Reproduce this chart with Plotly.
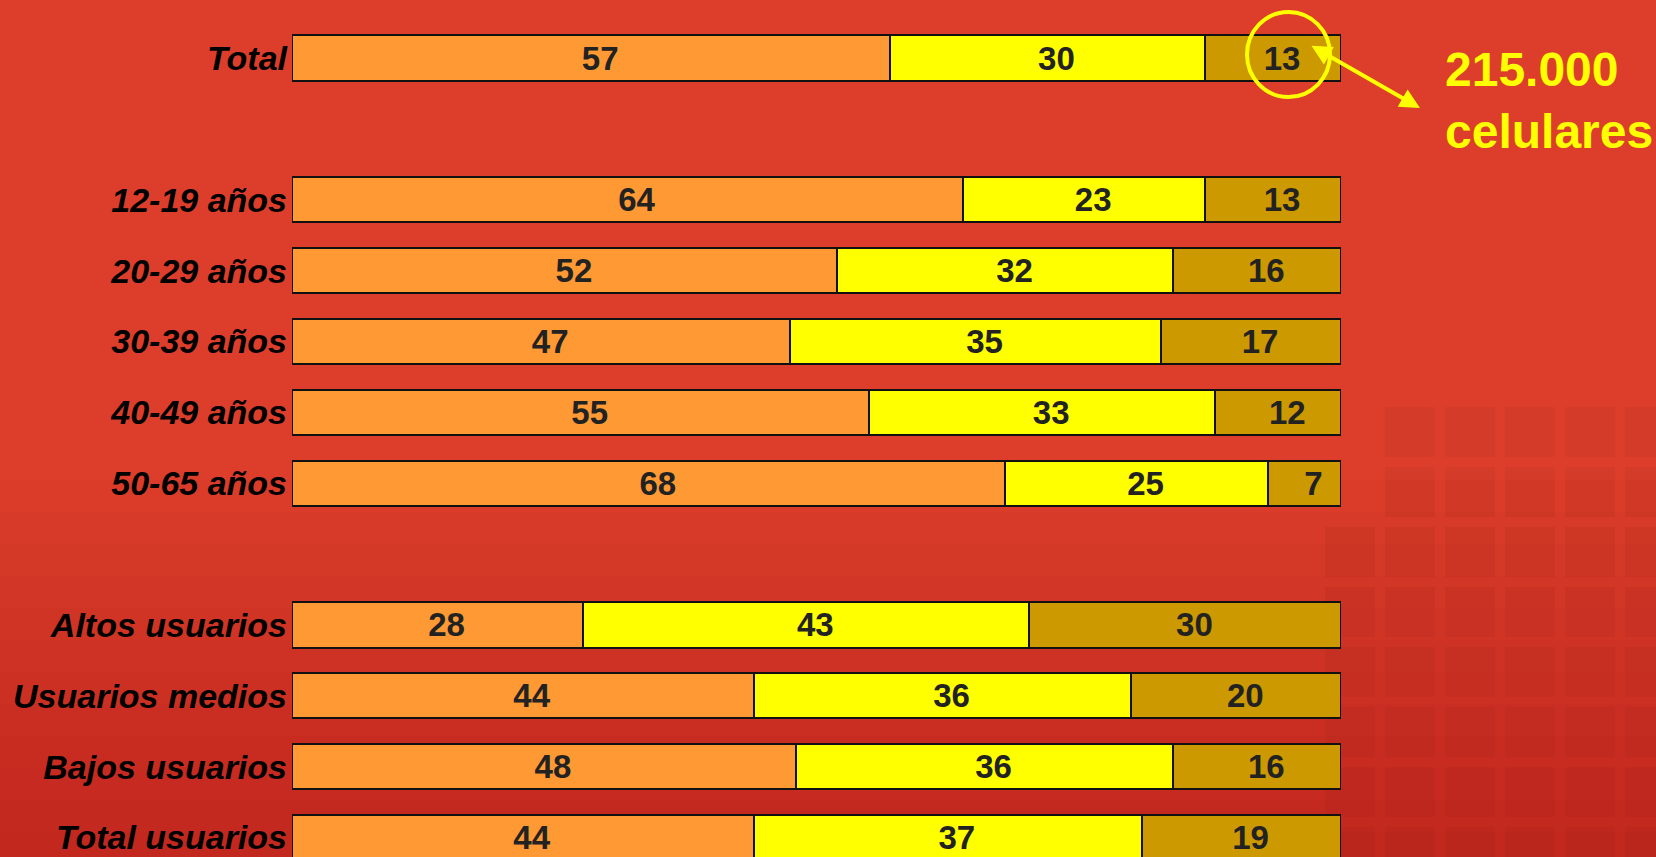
import plotly.graph_objects as go

# rows, top to bottom
categories = ["Total",
              "12-19 años", "20-29 años", "30-39 años", "40-49 años", "50-65 años",
              "Altos usuarios", "Usuarios medios", "Bajos usuarios", "Total usuarios"]
serie_a = [57, 64, 52, 47, 55, 68, 28, 44, 48, 44]
serie_b = [30, 23, 32, 35, 33, 25, 43, 36, 36, 37]
serie_c = [13, 13, 16, 17, 12, 7, 30, 20, 16, 19]

# blank spacer rows between groups
row_order = ["Total", " ",
             "12-19 años", "20-29 años", "30-39 años", "40-49 años", "50-65 años", "  ",
             "Altos usuarios", "Usuarios medios", "Bajos usuarios", "Total usuarios"]

W, H = 1656, 857
ML, MR = 292, 315
BG = "#DD3E2B"
COLORS = ["#FF9933", "#FFFF00", "#CC9900"]

# bars are drawn as 100% shares (rounded labels don't always add to 100)
totals = [a + b + c for a, b, c in zip(serie_a, serie_b, serie_c)]


def px_x(px):
    return (px - ML) / (W - ML - MR)


def px_y(py):
    return 1 - py / H


fig = go.Figure()
for vals, col in zip([serie_a, serie_b, serie_c], COLORS):
    fig.add_trace(go.Bar(
        y=categories, x=[v / t * 100 for v, t in zip(vals, totals)], orientation="h",
        marker=dict(color=col, line=dict(color="#111111", width=2)),
        width=0.64,
        # two leading nbsp nudge the labels a little right, like the original
        text=["\u00a0\u00a0" + str(v) for v in vals], texttemplate="%{text}",
        textposition="inside", insidetextanchor="middle",
        constraintext="none",
        textfont=dict(family="Liberation Sans", size=33, color="#222222", weight="bold"),
        hoverinfo="skip", showlegend=False,
    ))

# background shading: darker towards the bottom
shapes = []
for i in range(12):
    shapes.append(dict(type="rect", xref="paper", yref="paper", layer="below",
                       x0=px_x(0), x1=px_x(W), y0=px_y(H), y1=px_y(480 + i * 32),
                       fillcolor="rgba(110,15,10,0.025)", line=dict(width=0)))
# square tiles texture at bottom right
for r in range(8):
    for c in range(6):
        x0 = 1325 + c * 60
        y0 = 407 + r * 60
        if r < 2 and c == 0:
            continue
        shapes.append(dict(type="rect", xref="paper", yref="paper", layer="below",
                           x0=px_x(x0), x1=px_x(x0 + 50), y0=px_y(y0 + 50), y1=px_y(y0),
                           fillcolor="rgba(120,20,10,0.08)", line=dict(width=0)))
# yellow circle round the 13
shapes.append(dict(type="circle", xref="paper", yref="paper",
                   x0=px_x(1247), x1=px_x(1330), y0=px_y(97), y1=px_y(12),
                   line=dict(color="#FFFF00", width=4)))

fig.update_layout(
    barmode="stack",
    width=W, height=H,
    margin=dict(l=ML, r=MR, t=0, b=0),
    paper_bgcolor=BG, plot_bgcolor="rgba(0,0,0,0)",
    shapes=shapes,
    xaxis=dict(range=[0, 100], visible=False, fixedrange=True),
    yaxis=dict(type="category", categoryorder="array", categoryarray=row_order,
               range=[11.275, -0.82], showgrid=False, zeroline=False, showline=False,
               ticks="", ticklabelstandoff=4,
               tickfont=dict(family="Liberation Sans", size=34, color="black",
                             weight="bold", style="italic")),
    annotations=[
        dict(xref="paper", yref="paper", x=px_x(1420), y=px_y(108), text="",
             showarrow=True, ax=-110, ay=-63, arrowhead=2, arrowside="end+start",
             arrowsize=1, arrowwidth=4, arrowcolor="#FFFF00"),
        dict(xref="paper", yref="paper", x=px_x(1443), y=px_y(100),
             xanchor="left", yanchor="middle", align="left", showarrow=False,
             text="215.000<br>celulares",
             font=dict(family="Liberation Sans", size=48, color="#FFFF00", weight="bold")),
    ],
)

fig.write_html("out.html", config={"displayModeBar": False},
               post_script="document.body.style.margin='0';document.body.style.padding='0';"
                           "document.body.style.background='" + BG + "';")
